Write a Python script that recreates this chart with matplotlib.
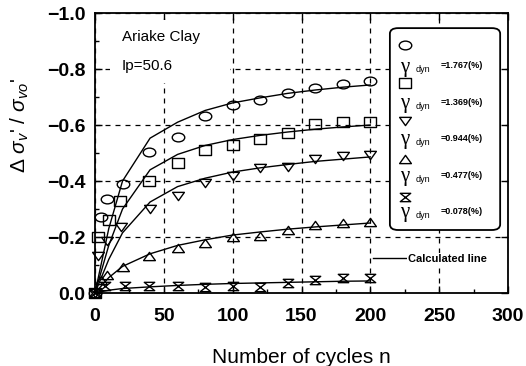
import matplotlib
matplotlib.use("Agg")
import matplotlib.pyplot as plt
from matplotlib.path import Path
from matplotlib.transforms import Affine2D
from matplotlib.patches import FancyBboxPatch, Rectangle
from matplotlib.ticker import MultipleLocator, FuncFormatter

plt.rcParams.update({"font.family": ["Liberation Sans", "DejaVu Sans"],
                     "mathtext.fontset": "custom",
                     "mathtext.rm": "Liberation Sans",
                     "mathtext.it": "Liberation Sans:italic"})

# ---- measured points (cycles n, normalised pore-pressure change) ----
n_circle = [0, 4, 9, 20, 39, 60, 80, 100, 120, 140, 160, 180, 200]
r_circle = [0, -0.27, -0.335, -0.39, -0.505, -0.557, -0.632, -0.671, -0.689, -0.714, -0.732, -0.746, -0.756]

n_square = [0, 2, 10, 18, 39, 60, 80, 100, 120, 140, 160, 180, 200]
r_square = [0, -0.20, -0.26, -0.329, -0.40, -0.466, -0.51, -0.529, -0.55, -0.572, -0.603, -0.61, -0.61]

n_tri_dn = [0, 2, 9, 19, 40, 60, 80, 100, 120, 140, 160, 180, 200]
r_tri_dn = [0, -0.132, -0.185, -0.236, -0.30, -0.345, -0.393, -0.419, -0.446, -0.45, -0.478, -0.49, -0.493]

n_tri_up = [0, 4, 9, 20, 39, 60, 80, 100, 120, 140, 160, 180, 200]
r_tri_up = [0, -0.045, -0.064, -0.093, -0.132, -0.16, -0.179, -0.20, -0.204, -0.225, -0.243, -0.25, -0.254]

n_hour = [0, 7, 22, 39, 60, 80, 100, 120, 140, 160, 180, 200]
r_hour = [0, -0.025, -0.025, -0.025, -0.025, -0.021, -0.025, -0.021, -0.036, -0.047, -0.055, -0.054]

# ---- calculated lines ----
n_calc = [0, 10, 20, 40, 60, 80, 100, 120, 140, 160, 180, 200]
c_circle = [0, -0.23, -0.40, -0.553, -0.61, -0.652, -0.679, -0.697, -0.713, -0.725, -0.735, -0.743]
c_square = [0, -0.17, -0.30, -0.44, -0.495, -0.527, -0.548, -0.563, -0.575, -0.585, -0.593, -0.60]
c_tri_dn = [0, -0.12, -0.215, -0.325, -0.38, -0.41, -0.432, -0.447, -0.459, -0.47, -0.478, -0.486]
c_tri_up = [0, -0.055, -0.095, -0.14, -0.17, -0.19, -0.207, -0.218, -0.228, -0.236, -0.243, -0.25]
c_hour = [0, -0.01, -0.016, -0.022, -0.027, -0.031, -0.034, -0.036, -0.038, -0.04, -0.042, -0.043]

gamma_labels = ["=1.767(%)", "=1.369(%)", "=0.944(%)", "=0.477(%)", "=0.078(%)"]

# slightly flattened open markers
ELLIPSE = Path.unit_circle().transformed(Affine2D().scale(1, 0.7))
SQUARE = Path([(-1, -0.8), (1, -0.8), (1, 0.8), (-1, 0.8), (-1, -0.8)], closed=True)
TRI_DN = Path([(-1, 0.7), (1, 0.7), (0, -0.7), (-1, 0.7)], closed=True)
TRI_UP = Path([(-1, -0.7), (1, -0.7), (0, 0.7), (-1, -0.7)], closed=True)
HOUR = Path([(-1, 0.8), (1, 0.8), (-1, -0.8), (1, -0.8), (-1, 0.8)], closed=True)

series = [
    (n_circle, r_circle, c_circle, ELLIPSE, 9),
    (n_square, r_square, c_square, SQUARE, 8.5),
    (n_tri_dn, r_tri_dn, c_tri_dn, TRI_DN, 8.5),
    (n_tri_up, r_tri_up, c_tri_up, TRI_UP, 8.5),
    (n_hour, r_hour, c_hour, HOUR, 7.5),
]

fig = plt.figure(figsize=(5.26, 3.66), dpi=100)
ax = fig.add_axes([95 / 526, 1 - 293 / 366, 413 / 526, 280 / 366])

for n, r, c, mk, ms in series:
    ax.plot(n_calc, c, color="black", lw=1.0, zorder=2)
    ax.plot(n, r, linestyle="none", marker=mk, ms=ms, mfc="none", mec="black",
            mew=1.0, zorder=3, clip_on=False)

ax.set_xlim(0, 300)
ax.set_ylim(0, -1.0)
ax.xaxis.set_major_locator(MultipleLocator(50))
ax.xaxis.set_minor_locator(MultipleLocator(25))
ax.yaxis.set_major_locator(MultipleLocator(0.2))
ax.yaxis.set_minor_locator(MultipleLocator(0.1))
ax.yaxis.set_major_formatter(FuncFormatter(lambda v, p: f"{v:.1f}".replace("-", "\u2212")))

ax.set_axisbelow(True)
ax.grid(True, which="major", color="black", linestyle=(0, (4, 4)), linewidth=0.9)
ax.tick_params(which="both", direction="in", top=True, right=True)
ax.tick_params(which="major", length=5, width=1)
ax.tick_params(which="minor", length=3, width=1, top=False, right=False)
ax.tick_params(axis="x", which="major", pad=11, labelsize=14)
ax.tick_params(axis="y", which="major", pad=7, labelsize=14)
for lab in ax.get_xticklabels() + ax.get_yticklabels():
    lab.set_fontweight("bold")
for s in ax.spines.values():
    s.set_linewidth(1.3)

# white block behind the sample description
ax.add_patch(Rectangle((0.036, 0.75), 0.29, 0.225, transform=ax.transAxes,
                       facecolor="white", edgecolor="none", zorder=1))
ax.text(0.065, 0.914, "Ariake Clay", transform=ax.transAxes, fontsize=11,
        va="center", zorder=4)
ax.text(0.065, 0.81, "Ip=50.6", transform=ax.transAxes, fontsize=11,
        va="center", zorder=4)

# legend block
ax.add_patch(FancyBboxPatch((0.714, 0.225), 0.267, 0.721, transform=ax.transAxes,
                            boxstyle="round,pad=0,rounding_size=0.02",
                            facecolor="white", edgecolor="black", lw=1.3, zorder=5))
for i, ((_, _, _, mk, ms), lab) in enumerate(zip(series, gamma_labels)):
    ym = 0.886 - 0.136 * i
    yg = 0.807 - 0.13 * i
    ax.plot([0.75], [ym], transform=ax.transAxes, marker=mk, ms=ms, mfc="none",
            mec="black", mew=1.0, linestyle="none", zorder=6, clip_on=False)
    ax.text(0.75, yg, "\u03b3", transform=ax.transAxes, fontsize=15,
            family=["Liberation Serif", "DejaVu Serif"], ha="center", va="center", zorder=6)
    ax.text(0.793, yg - 0.01, "dyn", transform=ax.transAxes, fontsize=6.5,
            ha="center", va="center", zorder=6)
    ax.text(0.838, yg + 0.004, lab, transform=ax.transAxes, fontsize=6.5,
            fontweight="bold", ha="left", va="center", zorder=6)

# calculated-line label
ax.plot([0.673, 0.758], [0.125, 0.125], transform=ax.transAxes, color="black",
        lw=1.0, zorder=4)
ax.text(0.758, 0.12, "Calculated line", transform=ax.transAxes, fontsize=8,
        fontweight="bold", ha="left", va="center", zorder=4,
        bbox=dict(facecolor="white", edgecolor="none", pad=1))

fig.text(301 / 526, 3 / 366, "Number of cycles n", fontsize=15, ha="center", va="baseline")
fig.text(20 / 526, 1 - 126 / 366, r"$\Delta\ \sigma_{v}$' / $\sigma_{vo}$'", fontsize=15,
         rotation=90, ha="center", va="center")

fig.savefig("out.png", dpi=100, facecolor="white")
